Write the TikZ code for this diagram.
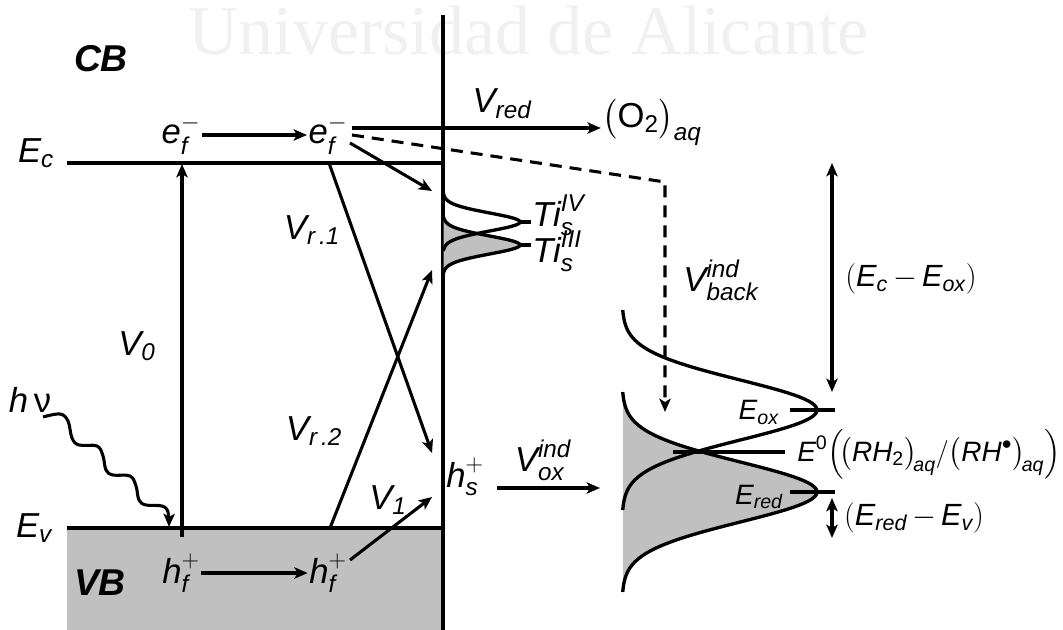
\RequirePackage{fix-cm}
\documentclass[tikz,border=0pt]{standalone}
\usepackage{amsmath}
\usepackage{fontspec}
\setmainfont{Liberation Sans}
\newfontfamily\markfont{Liberation Serif}
\usetikzlibrary{arrows.meta}
\definecolor{cInk}{HTML}{000000}
\definecolor{cBand}{HTML}{C0C0C0}
\definecolor{cMark}{HTML}{F0F0F0}
\newcommand{\tx}[1]{\textit{#1}}
\newcommand{\lblfont}{\fontsize{26}{29}\selectfont}
\newcommand{\redoxfont}{\fontsize{21}{24}\selectfont}
\tikzset{
  every node/.style={font=\lblfont, text=cInk, inner sep=1pt},
  redox/.style={font=\redoxfont, inner sep=0pt},
  gap/.style={font=\fontsize{23}{26}\selectfont, inner sep=0pt},
  band/.style={line width=2.6pt, draw=cInk},
  dos/.style={line width=2.5pt, draw=cInk},
  tick/.style={line width=2.5pt, draw=cInk},
  arr/.style={-{Stealth[length=10pt,width=8.5pt,inset=2.5pt]}, line width=2.3pt, draw=cInk},
  dbl/.style={{Stealth[length=10pt,width=8.5pt,inset=2.5pt]}-{Stealth[length=10pt,width=8.5pt,inset=2.5pt]}, line width=2.3pt, draw=cInk},
  darr/.style={arr, dash pattern=on 9pt off 6pt},
  bandlbl/.style={font=\fontsize{28}{31}\selectfont\bfseries\itshape},
}

\begin{document}
\begin{tikzpicture}[x=0.75pt,y=-0.75pt]
\useasboundingbox (0,0) rectangle (1063,630);
\node[font=\markfont\fontsize{52.5}{55}\selectfont, text=cMark, anchor=base west, inner sep=0pt] (mark) at (188,55) {Universidad de Alicante};
% bands and interface
\fill[cBand] (67,528) rectangle (443,630);
\draw[band] (67,163) -- (443,163);
\draw[band] (67,528) -- (443,528);
\draw[band] (443,15) -- (443,630);
\node[bandlbl] (cb) at (101,59) {CB};
\node[bandlbl] (vb) at (100,583) {VB};
\node (ec) at (36,153) {$\tx{E}_{\tx{c}}$};
\node (ev) at (34,528) {$\tx{E}_{\tx{v}}$};
% carriers
\node (ef1) at (181,135) {$\tx{e}_{\tx{f}}^{-}$};
\node (ef2) at (328,135) {$\tx{e}_{\tx{f}}^{-}$};
\node (hf1) at (181,573) {$\tx{h}_{\tx{f}}^{+}$};
\node (hf2) at (328,573) {$\tx{h}_{\tx{f}}^{+}$};
\node (hs) at (465,477) {$\tx{h}_{\tx{s}}^{+}$};
\node (o2) at (652,122) {$\bigl(\text{O}_{\text{2}}\bigr)_{\tx{aq}}$};
\node (hnu) at (30,400) {\tx{h}\,ν};
% rate labels
\node (vred) at (502,104) {$\tx{V}_{\tx{red}}$};
\node (v0) at (137,346) {$\tx{V}_{\tx{0}}$};
\node (vr1) at (312,230) {$\tx{V}_{\tx{r\,.1}}$};
\node (vr2) at (314,431) {$\tx{V}_{\tx{r\,.2}}$};
\node (v1) at (388,500) {$\tx{V}_{\tx{1}}$};
\node (vox) at (543,460) {$\tx{V}_{\tx{ox}}^{\tx{ind}}$};
\node (vback) at (721,280) {$\tx{V}_{\tx{back}}^{\tx{ind}}$};
% surface states
\fill[cBand] plot[domain=-28:28, samples=60, variable=\t] ({443+77*exp(-(\t*\t)/162)},{245+\t}) -- cycle;
\draw[dos] plot[domain=-29:29, samples=60, variable=\t] ({443+77*exp(-(\t*\t)/162)},{222+\t});
\draw[dos] plot[domain=-28:28, samples=60, variable=\t] ({443+77*exp(-(\t*\t)/162)},{245+\t});
\draw[tick] (519,222) -- (531,222);
\draw[tick] (519,245) -- (531,245);
\node[anchor=base west, inner sep=0pt] (ti4) at (532,227) {$\tx{Ti}_{\tx{s}}^{\tx{IV}}$};
\node[anchor=base west, inner sep=0pt] (ti3) at (532,263) {$\tx{Ti}_{\tx{s}}^{\tx{III}}$};
% redox levels of the solution
\fill[cBand] plot[domain=-100:100, samples=120, variable=\t] ({622+195*exp(-(\t*\t)/1800)},{492+\t}) -- cycle;
\draw[dos] plot[domain=-100:100, samples=120, variable=\t] ({622+195*exp(-(\t*\t)/1800)},{410+\t});
\draw[dos] plot[domain=-100:100, samples=120, variable=\t] ({622+195*exp(-(\t*\t)/1800)},{492+\t});
\draw[tick] (790,410) -- (835,410);
\draw[tick] (790,492) -- (835,492);
\draw[tick] (673,452) -- (785,452);
\node[redox, anchor=base east] (eox) at (779,420) {$\tx{E}_{\tx{ox}}$};
\node[redox, anchor=base east] (ered) at (783,504) {$\tx{E}_{\tx{red}}$};
\node[redox, anchor=west] (e0) at (797,454) {$\tx{E}^{\text{0}}\Bigl(\!\bigl(\tx{RH}_{\text{2}}\bigr)_{\!\tx{aq}}{/}\bigl(\tx{RH}^{\bullet}\bigr)_{\!\tx{aq}}\Bigr)$};
\node[gap] (gapc) at (911,279) {$(\tx{E}_{\tx{c}}\mkern3mu{-}\mkern3mu\tx{E}_{\tx{ox}})$};
\node[gap] (gapv) at (914,518) {$(\tx{E}_{\tx{red}}\mkern3mu{-}\mkern3mu\tx{E}_{\tx{v}})$};
% connectors
\coordinate (v0a) at (182,537);
\coordinate (v0b) at (182,164);
\coordinate (red0) at (352,128);
\coordinate (bk0) at (352,135);
\coordinate (bk1) at (665,182);
\coordinate (bk2) at (665,412);
\coordinate (tr0) at (350,143);
\coordinate (tr1) at (432,191);
\coordinate (r1a) at (329,163);
\coordinate (r1b) at (432,453);
\coordinate (r2a) at (330,528);
\coordinate (r2b) at (432,270);
\coordinate (v1a) at (350,560);
\coordinate (v1b) at (432,497);
\coordinate (ox0) at (497,488);
\coordinate (ox1) at (600,488);
\coordinate (gc0) at (832,163);
\coordinate (gc1) at (832,392);
\coordinate (gv0) at (832,498);
\coordinate (gv1) at (832,538);
\draw[arr] (ef1) -- (ef2);
\draw[arr] (hf1) -- (hf2);
\draw[arr] (v0a) -- (v0b);
\draw[arr] (red0) -- (red0 -| o2.west);
\draw[darr] (bk0) -- (bk1) -- (bk2);
\draw[arr] (tr0) -- (tr1);
\draw[arr] (r1a) -- (r1b);
\draw[arr] (r2a) -- (r2b);
\draw[arr] (v1a) -- (v1b);
\draw[arr] (ox0) -- (ox1);
\draw[dbl] (gc0) -- (gc1);
\draw[dbl] (gv0) -- (gv1);
\draw[arr] plot[smooth, tension=0.6] coordinates {(43,417) (60,414) (68,421) (72,438) (79,445) (97,446) (103,456) (106,470) (113,475) (130,476) (136,486) (139,500) (146,505) (162,506) (168,512) (169,527)};
\end{tikzpicture}
\end{document}
